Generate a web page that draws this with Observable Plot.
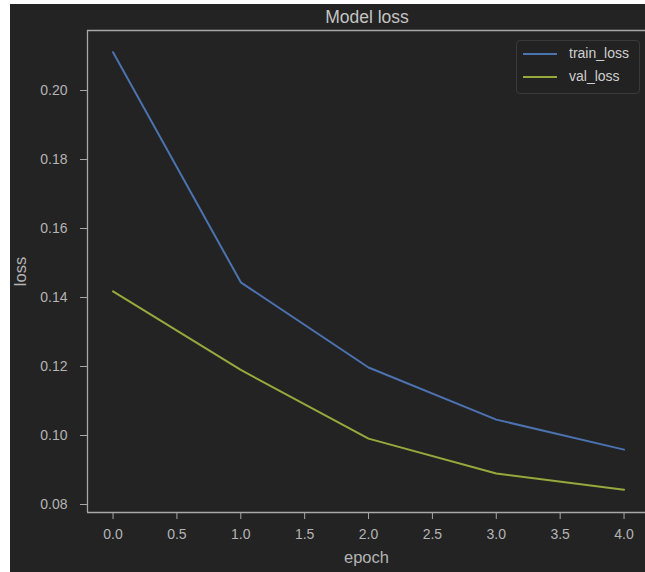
<!DOCTYPE html>
<html>
<head>
<meta charset="utf-8">
<script src="https://cdn.jsdelivr.net/npm/d3@7"></script>
<script src="https://cdn.jsdelivr.net/npm/@observablehq/plot@0.6"></script>
<style>
  html, body { margin: 0; padding: 0; background: #ffffff; }
  #wrap { position: relative; width: 645px; height: 572px; overflow: hidden; font-family: "Liberation Sans", Arial, sans-serif; }
  #bg { position: absolute; left: 10px; top: 4px; right: 0; bottom: 0; background: #232323; }
  #chart { position: absolute; left: 0; top: 0; }
  #title { position: absolute; left: 87px; width: 560px; top: 7px; text-align: center; font-size: 17.5px; color: #c4c4c4; }
  #legend { position: absolute; left: 516px; top: 40px; width: 124px; height: 54px; border: 1px solid #3a3a3a; border-radius: 4px; background: #222222; box-sizing: border-box; }
  .item { position: absolute; left: 6px; height: 16px; font-size: 14px; color: #cfcfcf; }
  .item .sw { position: absolute; left: 0; top: 7px; width: 34px; height: 2px; }
  .item .lb { position: absolute; left: 46px; top: -1px; white-space: nowrap; }
  g[aria-label="x-axis label"], g[aria-label="y-axis label"] { font-size: 16.5px; }
</style>
</head>
<body>
<div id="wrap">
  <div id="bg"></div>
  <div id="chart"></div>
  <div id="title"></div>
  <div id="legend"></div>
</div>
<script>
const epochs = [0, 1, 2, 3, 4];
const trainLoss = [0.2111, 0.1444, 0.1197, 0.1046, 0.0959];
const valLoss = [0.1418, 0.1190, 0.0991, 0.0890, 0.0843];
const seriesNames = ["train_loss", "val_loss"];
const seriesColors = ["#4c72b0", "#98a83c"];
const xTicks = [0, 0.5, 1, 1.5, 2, 2.5, 3, 3.5, 4];
const yTicks = [0.08, 0.10, 0.12, 0.14, 0.16, 0.18, 0.20];
const titleText = "Model loss";
const xLabel = "epoch";
const yLabel = "loss";

const xDomain = [-0.2, 4.168];
const yDomain = [0.07768, 0.21739];

const data = [];
epochs.forEach((e, i) => {
  data.push({epoch: e, loss: trainLoss[i], series: seriesNames[0]});
  data.push({epoch: e, loss: valLoss[i], series: seriesNames[1]});
});

const frameColor = "#a8a8a8";

const chart = Plot.plot({
  width: 645,
  height: 572,
  marginLeft: 87,
  marginRight: 0,
  marginTop: 30,
  marginBottom: 60,
  style: {background: "transparent", color: "#b4b4b4", fontFamily: "'Liberation Sans', Arial, sans-serif", fontSize: "14px"},
  x: {domain: xDomain},
  y: {domain: yDomain},
  color: {domain: seriesNames, range: seriesColors},
  marks: [
    Plot.ruleX([xDomain[0]], {stroke: frameColor, strokeWidth: 1.3}),
    Plot.ruleY(yDomain, {stroke: frameColor, strokeWidth: 1.3}),
    Plot.axisX({ticks: xTicks, tickFormat: d3.format(".1f"), tickSize: 7, tickPadding: 10, stroke: frameColor, label: xLabel, labelAnchor: "center", labelArrow: "none", labelOffset: 50}),
    Plot.axisY({ticks: yTicks, tickFormat: d3.format(".2f"), tickSize: 7, tickPadding: 13, stroke: frameColor, label: yLabel, labelAnchor: "center", labelArrow: "none", labelOffset: 73}),
    Plot.line(data, {x: "epoch", y: "loss", z: "series", stroke: "series", strokeWidth: 2})
  ]
});
document.getElementById("chart").appendChild(chart);
document.getElementById("title").textContent = titleText;

const legend = document.getElementById("legend");
seriesNames.forEach((name, i) => {
  const item = document.createElement("div");
  item.className = "item";
  item.style.top = (5 + i * 23) + "px";
  const sw = document.createElement("div");
  sw.className = "sw";
  sw.style.background = seriesColors[i];
  const lb = document.createElement("div");
  lb.className = "lb";
  lb.textContent = name;
  item.appendChild(sw);
  item.appendChild(lb);
  legend.appendChild(item);
});
</script>
</body>
</html>
